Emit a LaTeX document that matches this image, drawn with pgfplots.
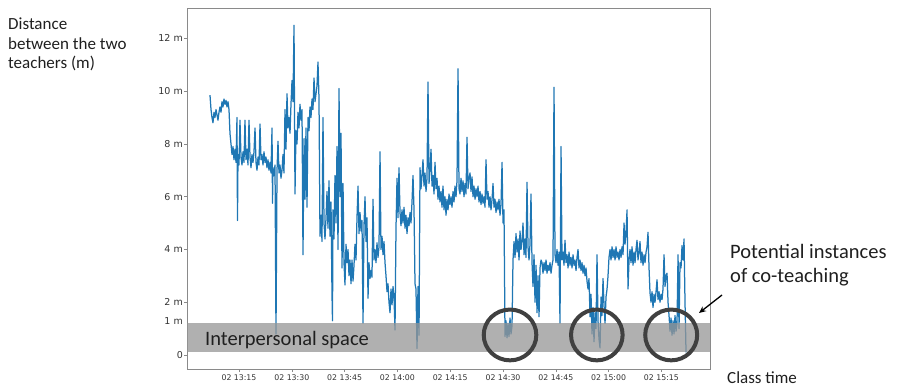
\documentclass[border=0pt]{standalone}
\usepackage{fontspec}
\setmainfont{Carlito}
\newfontfamily\dejavu{DejaVu Sans}
\usepackage{pgfplots}
\pgfplotsset{compat=1.18}
\usetikzlibrary{arrows.meta}
\definecolor{mplblue}{HTML}{1F77B4}
\definecolor{axgray}{HTML}{8A8A8A}
\definecolor{bandgray}{HTML}{969696}
\begin{document}
\begin{tikzpicture}
\useasboundingbox (0pt,0pt) rectangle (897pt,388pt);
\begin{axis}[
  at={(187pt,19pt)}, anchor=south west,
  scale only axis, width=523pt, height=361pt,
  xmin=0.23, xmax=148.8, ymin=-0.53, ymax=13.15,
  axis line style={axgray, line width=0.8pt},
  tick style={axgray, line width=0.6pt},
  tick align=outside, major tick length=3pt, tick pos=left,
  xtick={15,30,...,135},
  xticklabels={02 13:15,02 13:30,02 13:45,02 14:00,02 14:15,02 14:30,02 14:45,02 15:00,02 15:15},
  ytick={0,2,4,6,8,10,12},
  yticklabels={0,2 m,4 m,6 m,8 m,10 m,12 m},
  extra y ticks={1.29}, extra y tick labels={1 m},
  extra y tick style={tick style={draw=none}},
  xticklabel style={font=\dejavu\fontsize{7.8}{9}\selectfont, text=black!80, inner sep=1pt, yshift=-2pt},
  yticklabel style={font=\dejavu\fontsize{9.5}{11}\selectfont, text=black!80, inner sep=1pt},
]
\addplot[mplblue, line width=1.25pt, line join=round, mark=none] table {
t d
6.76 9.85
7.05 9.3
7.33 9.0
7.61 8.8
7.90 9.2
8.18 9.0
8.47 9.3
8.75 9.1
9.03 8.9
9.32 9.2
9.60 9.4
9.89 9.2
10.17 9.6
10.45 9.4
10.74 9.7
11.02 9.5
11.31 9.65
11.59 9.4
11.88 9.6
12.16 9.3
12.44 8.4
12.73 8.0
13.01 7.6
13.30 7.9
13.58 7.4
13.86 7.8
14.15 7.3
14.43 9.0
14.57 5.1
14.72 7.6
15.00 7.2
15.28 8.9
15.57 7.5
15.85 7.2
16.14 7.7
16.42 7.3
16.70 8.9
16.99 7.4
17.27 7.8
17.56 7.2
17.84 8.9
18.13 7.5
18.41 7.1
18.69 7.6
18.98 7.3
19.26 7.7
19.55 8.6
19.83 7.3
20.11 7.0
20.40 7.5
20.68 7.2
20.97 8.75
21.25 7.4
21.53 7.6
21.82 7.2
22.10 7.7
22.39 7.3
22.67 7.5
22.95 7.1
23.24 7.4
23.52 7.0
23.81 7.3
24.09 6.9
24.38 8.6
24.52 5.75
24.66 7.1
24.94 6.8
25.23 7.2
25.51 0.8
25.80 7.0
26.08 8.1
26.36 6.9
26.65 7.2
26.93 6.7
27.22 7.0
27.50 7.6
27.78 6.9
28.07 9.3
28.35 7.8
28.64 9.9
28.92 8.6
29.20 9.0
29.49 8.4
29.77 9.5
30.06 10.4
30.34 9.6
30.63 12.5
30.91 6.1
31.19 8.5
31.48 8.0
31.76 9.2
32.05 8.6
32.33 9.5
32.61 8.9
32.90 9.3
33.18 3.8
33.47 8.2
33.75 5.9
34.03 8.6
34.32 5.6
34.60 9.0
34.89 8.5
35.17 9.4
35.45 9.0
35.74 9.7
36.02 9.3
36.31 10.5
36.59 9.6
36.88 9.9
37.16 10.2
37.44 11.1
37.73 9.7
38.01 4.5
38.30 5.3
38.58 4.3
38.86 9.0
39.15 5.0
39.43 4.4
39.72 5.2
40.00 6.2
40.28 4.8
40.57 6.6
40.85 4.5
41.14 5.8
41.42 2.3
41.56 1.3
41.70 5.5
41.99 4.4
42.27 6.8
42.56 5.0
42.84 7.9
43.13 4.0
43.41 10.1
43.69 6.0
43.98 8.4
44.26 3.3
44.55 6.5
44.83 3.5
45.11 2.65
45.40 4.2
45.68 3.5
45.97 4.0
46.25 3.0
46.53 3.6
46.82 2.7
47.10 3.6
47.39 2.8
47.67 3.4
47.95 4.2
48.24 3.6
48.52 5.2
48.81 6.4
49.09 4.6
49.38 5.4
49.66 4.7
49.94 5.1
50.23 1.2
50.51 4.9
50.80 6.0
51.08 4.3
51.36 5.2
51.65 2.15
51.93 3.5
52.22 2.9
52.50 3.2
52.78 2.95
53.07 5.9
53.35 3.6
53.64 4.0
53.92 3.5
54.20 4.25
54.49 3.7
54.77 4.1
55.06 7.7
55.34 4.0
55.63 4.5
55.91 3.8
56.19 4.3
56.48 3.5
56.76 3.0
57.05 2.4
57.33 2.7
57.61 2.0
57.90 1.6
58.18 2.5
58.47 1.9
58.75 2.6
59.03 2.2
59.32 0.95
59.60 4.8
59.89 6.7
60.17 5.2
60.45 7.1
60.74 5.4
61.02 4.9
61.31 5.5
61.59 5.0
61.88 5.6
62.16 4.8
62.44 5.3
62.73 4.6
63.01 5.2
63.30 4.9
63.58 5.4
63.86 5.0
64.15 5.8
64.43 6.8
64.72 5.5
65.00 2.7
65.28 2.5
65.57 0.25
65.85 2.6
66.14 0.75
66.42 7.1
66.70 6.3
66.99 6.8
67.27 7.4
67.56 6.4
67.84 6.9
68.13 6.2
68.41 6.7
68.69 10.35
68.98 6.5
69.26 7.0
69.55 7.8
69.83 6.4
70.11 6.8
70.40 6.1
70.68 7.3
70.97 6.3
71.25 6.7
71.53 5.9
71.82 6.4
72.10 5.8
72.39 6.2
72.67 5.6
72.95 6.4
73.24 5.5
73.52 6.0
73.81 5.3
74.09 5.9
74.38 5.5
74.66 6.1
74.94 5.7
75.23 6.0
75.51 5.6
75.80 6.2
76.08 5.8
76.36 6.4
76.65 6.0
76.93 6.6
77.22 10.85
77.50 6.3
77.78 6.1
78.07 6.7
78.35 6.2
78.64 6.6
78.92 6.0
79.20 6.5
79.49 6.1
79.77 8.25
80.06 6.3
80.34 6.7
80.63 6.9
80.91 6.2
81.19 6.75
81.48 6.0
81.76 6.4
82.05 5.9
82.33 6.3
82.61 6.0
82.90 6.4
83.18 5.8
83.47 6.2
83.75 5.7
84.03 6.1
84.32 5.75
84.60 6.0
84.89 5.6
85.17 7.4
85.45 5.9
85.74 6.2
86.02 5.6
86.31 6.0
86.59 5.5
86.88 5.9
87.16 6.5
87.44 5.6
87.73 5.9
88.01 5.4
88.30 5.8
88.58 5.5
88.86 5.9
89.15 5.3
89.43 5.7
89.72 7.3
90.00 5.0
90.28 5.5
90.57 0.7
90.85 1.3
91.14 0.65
91.42 1.2
91.70 0.7
91.99 1.4
92.27 0.8
92.56 1.1
92.84 3.6
93.13 4.3
93.41 3.7
93.69 4.6
93.98 3.9
94.26 4.4
94.55 3.6
94.83 4.7
95.11 4.0
95.40 4.3
95.68 5.0
95.97 3.8
96.25 4.4
96.53 3.7
96.82 6.55
97.10 4.1
97.39 3.6
97.67 4.2
97.95 6.1
98.24 3.5
98.52 2.6
98.81 3.8
99.09 2.0
99.38 3.4
99.66 1.6
99.94 3.0
100.23 1.45
100.51 3.3
100.80 3.6
101.08 3.5
101.36 3.1
101.65 3.5
101.93 3.2
102.22 3.6
102.50 3.1
102.78 3.4
103.07 3.2
103.35 3.5
103.64 3.1
103.92 3.4
104.20 3.6
104.49 10.15
104.77 3.8
105.06 3.5
105.34 4.0
105.63 3.4
105.91 3.9
106.19 1.2
106.48 7.9
106.76 3.6
107.05 3.9
107.33 3.4
107.61 4.35
107.90 3.5
108.18 3.8
108.47 3.3
108.75 3.9
109.03 3.4
109.32 3.7
109.60 3.3
109.89 3.8
110.17 3.4
110.45 3.6
110.74 3.2
111.02 3.7
111.31 4.0
111.59 3.3
111.88 3.6
112.16 3.2
112.44 3.5
112.73 3.1
113.01 3.4
113.30 3.0
113.58 3.3
113.86 2.8
114.15 2.5
114.43 2.9
114.72 1.45
115.00 2.3
115.28 0.8
115.57 1.8
115.85 0.5
116.14 1.6
116.42 1.0
116.70 3.8
116.99 1.3
117.27 0.6
117.56 0.27
117.84 2.2
118.13 1.5
118.41 2.9
118.69 1.9
118.98 1.2
119.26 2.2
119.55 2.5
119.83 3.0
120.11 3.7
120.40 4.0
120.68 3.6
120.97 4.1
121.25 3.7
121.53 4.0
121.82 3.6
122.10 4.1
122.39 3.7
122.67 3.9
122.95 3.6
123.24 4.0
123.52 3.7
123.81 4.1
124.09 3.8
124.38 5.0
124.66 4.2
124.94 4.6
125.23 5.5
125.51 2.5
125.80 3.6
126.08 4.0
126.36 3.5
126.65 4.1
126.93 3.4
127.22 3.9
127.50 3.5
127.78 4.0
128.07 4.35
128.35 3.6
128.64 3.9
128.92 4.3
129.20 3.5
129.49 3.9
129.77 3.4
130.06 3.8
130.34 3.5
130.63 3.9
130.91 4.1
131.19 4.65
131.48 3.3
131.76 2.35
132.05 2.0
132.33 2.4
132.61 1.8
132.90 2.3
133.18 2.0
133.47 2.4
133.75 2.85
134.03 2.1
134.32 2.4
134.60 2.0
134.89 2.3
135.17 2.1
135.45 2.5
135.74 3.8
136.02 2.6
136.31 3.0
136.59 3.1
136.88 2.0
137.16 1.5
137.44 0.9
137.73 1.4
138.01 0.75
138.30 1.3
138.58 0.8
138.86 1.5
139.15 0.9
139.43 1.2
139.72 3.8
140.00 1.0
140.28 3.5
140.57 3.3
140.85 4.15
141.14 3.6
141.42 4.4
141.70 2.0
141.99 0.1
};
\fill[bandgray, opacity=0.75] (axis cs:0.23,0.1) rectangle (axis cs:148.8,1.2);
\node[anchor=base west, font=\fontsize{20.5}{24}\selectfont, text=black!88, inner sep=0pt] at (axis cs:5.34,0.35) {Interpersonal space};
\draw[black!75, line width=4pt] (axis cs:91.99,0.76) ellipse [x radius=26.3pt, y radius=25.4pt];
\draw[black!75, line width=4pt] (axis cs:116.65,0.76) ellipse [x radius=25.8pt, y radius=25.4pt];
\draw[black!75, line width=4pt] (axis cs:137.78,0.76) ellipse [x radius=26pt, y radius=25.4pt];
\end{axis}
\draw[black, line width=1.3pt, -{Stealth[length=7pt, width=6pt]}] (722pt,93pt) -- (699pt,75pt);
\begin{scope}[every node/.style={anchor=base west, inner sep=0pt, text=black!88}]
\node[font=\fontsize{17}{19.5}\selectfont] at (8pt,358.7pt) {Distance};
\node[font=\fontsize{17}{19.5}\selectfont] at (8pt,338.7pt) {between the two};
\node[font=\fontsize{17}{19.5}\selectfont] at (8pt,319.7pt) {teachers (m)};
\node[font=\fontsize{20.5}{24}\selectfont] at (730pt,129pt) {Potential instances};
\node[font=\fontsize{20.5}{24}\selectfont] at (730pt,105pt) {of co-teaching};
\node[font=\fontsize{17}{19.5}\selectfont] at (727pt,4.5pt) {Class time};
\end{scope}
\end{tikzpicture}
\end{document}
